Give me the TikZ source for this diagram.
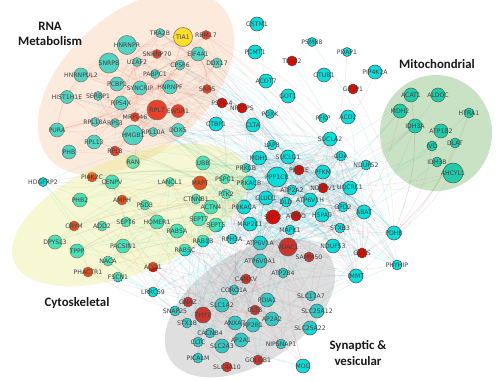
\documentclass[tikz,border=0pt]{standalone}
\usepackage{fontspec}
\newfontfamily\lblfont{DejaVu Sans}
\newfontfamily\ttlfont{Carlito}
\pgfdeclarelayer{bgw}\pgfdeclarelayer{edges}\pgfdeclarelayer{shade}\pgfdeclarelayer{top}
\pgfsetlayers{bgw,edges,main,shade,top}
\definecolor{ndcy}{RGB}{10,222,218}
\definecolor{ndrd}{RGB}{225,12,0}
\definecolor{ndyl}{RGB}{255,236,0}
\definecolor{shpeach}{RGB}{248,190,145}
\definecolor{shyel}{RGB}{225,235,110}
\definecolor{shgrn}{RGB}{80,160,60}
\definecolor{shgry}{RGB}{150,150,150}
\definecolor{edcy}{RGB}{70,205,220}
\definecolor{edrd}{RGB}{225,95,95}
\def\nodelist{%
160/33/4.5/cy/TRA2B, 127/45/9.5/cy/HNRNPR, 157/54/4.5/rd/SNRNP70, 137/62/4.5/cy/U2AF2,
109/63/10/cy/SNRPB, 81/75/7/cy/HNRNPUL2, 155/74/4.5/cy/PABPC1, 117/84/7/cy/PCBP1,
140/88/7/cy/SYNCRIP, 67/97/6.5/cy/HIST1H1E, 98/96/4.5/cy/SERBP1, 121/103/7/cy/RPS4X,
157/110/10/rd/RPL7, 135/117/4.5/rd/MRPL46, 95/122/4.5/cy/RPL18A, 115/123/4.5/cy/RPS3,
183/37/9.5/yl/TIA1, 206/35/4.5/rd/RBM17, 198/54/7/cy/EIF4A1, 180/65/5/cy/CPSF6,
217/63/5/cy/DDX17, 170/87/7/cy/HNRNPF, 207/89/4.5/rd/SARS, 178/111/6.5/rd/EWSR1,
178/130/6.5/cy/DDX5, 133/135/10/cy/HMGB1, 153/132/4.5/cy/RPL10A, 94/142/7/cy/RPL13,
115/151/5/rd/RPL8, 57/130/7/cy/PURA, 69/152/7/cy/PHB, 133/162/6.5/cy/RAN,
222/103/5/rd/PSMA4, 242/108/5/rd/NPEPPS, 216/124/7/cy/CTBP1, 253/125/7/cy/CLTA,
257/24/7/cy/GSTM1, 255/52/7/cy/PCMT1, 312/42/4.5/cy/PSMB8, 292/61/5/rd/TRIM2,
266/81/7/cy/ACOT7, 324/75/7/cy/OTUB1, 288/96/7/cy/GOT1, 270/114/4.5/cy/PDXK,
323/118/4.5/cy/PFKP, 348/117/7/cy/ACO2, 347/52/4.5/cy/PDAP1, 375/72/7/cy/PIP4K2A,
353/89/5/rd/GSTP1, 411/95/7/cy/ACAT1, 438/95/7/cy/ALDOC, 469/113/5/cy/HTRA1,
400/111/7/cy/MDH2, 415/126/7/cy/IDH3A, 441/131/7/cy/ATP1B2, 432/146/5/cy/IVD,
455/143/5/cy/DLAT, 437/162/5/cy/IDH3B, 453/173/10/cy/AHCYL1, 330/139/7/cy/SUCLA2,
272/145/5/cy/LAP3, 259/158/7/cy/MDH1, 288/157/7/cy/SUCLG1, 341/156/5/cy/GDA,
366/165/5/cy/NDUFS2, 246/168/4.5/cy/PRKCB, 299/170/5/rd/PRKCE, 323/172/7/cy/PFKM,
277/177/10/cy/PPP1CB, 249/183/7/cy/PRKACB, 323/188/5/rd/NDUFV1, 292/190/5/cy/ATP2A2,
350/188/7/cy/UQCRC1, 266/198/7/cy/GLUD1, 286/202/5/cy/DLD, 310/200/7/cy/ATP6V1H,
343/207/5/cy/GPD2, 244/207/7/cy/PRKACA, 273/217/7/rd/SIRT2, 296/216/5/rd/ATP5O,
322/215/7/cy/HSPA9, 364/212/7/cy/ABAT, 250/224/7/cy/MAP2K1, 290/230/5/cy/MAPK1,
340/228/5/cy/STXB3, 394/233/7/cy/PDHB, 260/243/7/cy/ATP6V1A, 288/247/9/rd/VDAC1,
333/246/7/cy/NDUFS3, 362/253/5/rd/GNAS, 397/265/5/cy/PHYHIP, 356/276/7/cy/IMMT,
203/163/7/cy/UBB, 225/179/5/cy/PSPC1, 226/194/5/cy/PTK2, 232/239/5/cy/RPH3A,
92/177/5/rd/PI4K2C, 43/182/4.5/cy/HDGFRP2, 112/182/7/cy/CENPV, 170/182/4.5/cy/LANCL1,
200/183/7/rd/MAPT, 80/200/7/cy/PHB2, 122/200/5/rd/AMPH, 145/205/5/cy/PSD3,
196/199/5/cy/CTNNB1, 211/207/7/cy/ACTN4, 74/226/5/rd/CRYM, 102/226/5/cy/ADD2,
126/222/5/cy/SEPT6, 157/222/7/cy/HOMER1, 199/219/7/cy/SEPT7, 216/225/7/cy/SEPT5,
177/231/7/cy/RAB5A, 203/241/6/cy/RAB1B, 185/250/6/cy/RAB5C, 55/242/7/cy/DPYSL3,
123/246/7/cy/PACSIN1, 77/251/7/cy/TPPP, 108/261/5/cy/NACA, 88/272/5/rd/PHACTR1,
118/277/5/cy/FSCN1, 153/267/5/rd/ADD1, 153/292/5/cy/LRRC59, 260/261/7/cy/ATP6V0A1,
309/257/5/rd/SAMM50, 283/273/5/cy/ATP2B4, 246/279/5/rd/CAMKV, 234/290/5/cy/CORO1A,
311/296/5/cy/SLC17A7, 188/302/5/rd/GNAZ, 222/305/7/cy/SLC1A2, 267/300/7/cy/PDIA1,
255/310/5/rd/CLTB, 175/311/5/cy/SNAP25, 317/311/7/cy/SLC25A12, 203/315/8/rd/THY1,
272/319/7/cy/AP2A2, 187/323/5/cy/STX1B, 235/323/7/cy/ANXA7, 253/325/7/cy/AP2B1,
310/328/7/cy/SLC25A22, 210/333/5/cy/CACNB4, 241/340/7/cy/AP2A1, 198/342/5/cy/CLTC,
222/346/7/cy/SLC2A3, 281/344/5/cy/NIPSNAP1, 198/358/5/cy/PICALM, 258/360/5/rd/GOLGB1,
227/367/5/rd/SLC4A10, 303/366/7/cy/MOG}
\tikzset{
  gnode/.style={circle, draw=black!70, line width=0.3pt, inner sep=0pt},
  lbl/.style={font=\lblfont\fontsize{3.5}{4}\selectfont, text=black!75, inner sep=0pt},
  ttl/.style={font=\ttlfont\bfseries\fontsize{7.3}{8.8}\selectfont, align=center, text=black!90},
  edgecy/.style={draw=edcy, line width=0.3pt, opacity=0.2},
  edgerd/.style={draw=edrd, line width=0.3pt, opacity=0.16},
  shade/.style={fill opacity=0.3}
}
\begin{document}
\begin{tikzpicture}[x=0.02cm,y=-0.02cm]
\begin{pgfonlayer}{bgw}
\fill[white] (0,0) rectangle (500,381);
\end{pgfonlayer}
\useasboundingbox (0,0) rectangle (500,381);
% nodes
\foreach \x/\y/\r/\c/\t [count=\i] in \nodelist {
  \node[gnode, fill=nd\c, minimum size={\r*0.04cm}] (n\i) at (\x,\y) {};
  \begin{pgfonlayer}{top}
  \node[lbl] (l\i) at (\x,\y) {\t};
  \end{pgfonlayer}
}
% edges
\begin{pgfonlayer}{edges}
\pgfmathsetseed{11}
% all nodes to the central core
\foreach \k in {1,...,340}{
  \pgfmathtruncatemacro\a{random(1,150)}
  \pgfmathtruncatemacro\b{random(60,96)}
  \pgfmathtruncatemacro\cc{random(0,2)}
  \pgfmathtruncatemacro\keep{(\a<37 || \a>49) ? 1 : (random(0,3)==0 ? 1 : 0)}
  \ifnum\keep=1\relax
  \ifnum\a=\b\relax\else
    \ifnum\cc=0\relax \draw[edgerd] (n\a) to[bend left=14] (n\b);
    \else \draw[edgecy] (n\a) to[bend left=14] (n\b); \fi
  \fi\fi
}
% dense core
\foreach \k in {1,...,220}{
  \pgfmathtruncatemacro\a{random(60,96)}
  \pgfmathtruncatemacro\b{random(60,96)}
  \pgfmathtruncatemacro\cc{random(0,3)}
  \ifnum\a=\b\relax\else
    \ifnum\cc=0\relax \draw[edgerd] (n\a) to[bend right=18] (n\b);
    \else \draw[edgecy] (n\a) to[bend right=18] (n\b); \fi
  \fi
}
% RNA metabolism web
\foreach \k in {1,...,150}{
  \pgfmathtruncatemacro\a{random(1,32)}
  \pgfmathtruncatemacro\b{random(1,36)}
  \ifnum\a=\b\relax\else \draw[edgerd] (n\a) to[bend left=14] (n\b); \fi
}
% cytoskeletal / synaptic
\foreach \k in {1,...,110}{
  \pgfmathtruncatemacro\a{random(97,150)}
  \pgfmathtruncatemacro\b{random(93,150)}
  \pgfmathtruncatemacro\cc{random(0,1)}
  \ifnum\a=\b\relax\else
    \ifnum\cc=0\relax \draw[edgerd] (n\a) to[bend right=14] (n\b);
    \else \draw[edgecy] (n\a) to[bend right=14] (n\b); \fi
  \fi
}
\end{pgfonlayer}
% shaded regions
\begin{pgfonlayer}{shade}
\fill[shpeach, shade, rotate around={41:(136,83)}] (136,83) ellipse [x radius=115, y radius=70];
\fill[shyel, shade, rotate around={22:(130,215)}] (130,215) ellipse [x radius=125, y radius=58];
\fill[shgrn, shade] (436,133) ellipse [x radius=56, y radius=58];
\fill[shgry, shade, rotate around={33:(250,308)}] (250,308) ellipse [x radius=95, y radius=55];
\end{pgfonlayer}
% titles
\begin{pgfonlayer}{top}
\node[ttl] (tRNA) at (50,34) {RNA\\Metabolism};
\node[ttl] (tMito) at (437,64) {Mitochondrial};
\node[ttl] (tCyto) at (77,303) {Cytoskeletal};
\node[ttl] (tSyn) at (358,353) {Synaptic \&\\vesicular};
\end{pgfonlayer}
\end{tikzpicture}
\end{document}
